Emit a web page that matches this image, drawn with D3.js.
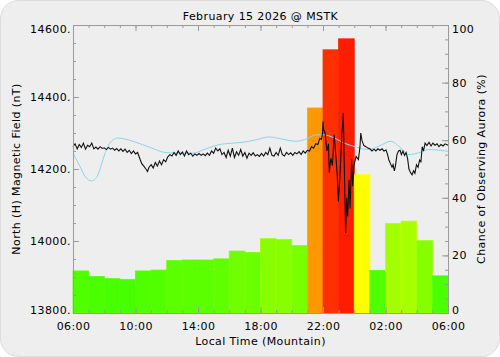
<!DOCTYPE html>
<html>
<head>
<meta charset="utf-8">
<script src="https://cdn.jsdelivr.net/npm/d3@7"></script>
<style>
  html, body { margin: 0; padding: 0; background: #ffffff; }
  svg { display: block; font-family: "DejaVu Sans", sans-serif; }
</style>
</head>
<body>
<div id="chart"></div>
<script>
// chance of aurora, one bar per hour starting 06:00
var chanceValues = [14.6, 12.7, 11.9, 11.6, 14.6, 14.9, 18.2, 18.4, 18.4, 18.8, 21.5, 21.0,
                    25.8, 25.5, 23.4, 71.2, 91.4, 95.2, 48.0, 14.8, 31.1, 31.9, 25.1, 12.9];

// magnetometer H component: [minutes after 06:00, nT]
var magField = [
  [0,14262],[8,14270],[16,14256],[24,14268],[32,14260],[40,14272],[48,14255],[56,14266],[64,14262],[72,14272],
  [80,14256],[88,14261],[96,14255],[104,14262],[112,14257],[120,14259],[128,14254],[136,14260],[144,14255],[152,14258],
  [160,14252],[168,14257],[176,14250],[184,14256],[192,14249],[200,14255],[208,14246],[216,14252],[224,14243],[232,14250],
  [240,14242],[248,14246],[256,14230],[264,14215],[272,14208],[280,14200],[286,14193],[292,14205],[300,14212],[308,14203],
  [316,14218],[324,14208],[332,14222],[340,14212],[348,14226],[356,14220],[364,14234],[372,14240],[380,14236],[388,14246],
  [396,14238],[404,14250],[412,14240],[420,14247],[428,14236],[436,14250],[444,14240],[452,14244],[460,14236],[468,14242],
  [476,14238],[484,14243],[492,14238],[500,14242],[508,14237],[516,14244],[524,14238],[532,14250],[540,14244],[548,14258],
  [556,14250],[564,14256],[572,14240],[580,14246],[588,14232],[596,14252],[604,14236],[612,14258],[620,14232],[628,14248],
  [636,14238],[644,14254],[652,14236],[660,14246],[668,14230],[676,14244],[684,14238],[692,14245],[700,14236],[708,14240],
  [716,14235],[724,14243],[732,14236],[740,14246],[748,14240],[756,14258],[764,14238],[772,14236],[780,14246],[788,14238],
  [796,14258],[804,14240],[812,14236],[820,14246],[828,14240],[836,14245],[844,14238],[852,14246],[860,14242],[868,14248],
  [876,14240],[884,14250],[892,14244],[900,14252],[908,14250],[916,14262],[924,14258],[932,14270],[940,14268],[948,14285],
  [954,14282],[958,14300],[960,14332],[962,14310],[968,14300],[975,14250],[981,14270],[984,14190],[990,14230],[996,14210],
  [1003,14295],[1009,14240],[1015,14180],[1019,14110],[1025,14180],[1032,14290],[1038,14355],[1042,14200],[1047,14022],[1051,14120],
  [1055,14068],[1060,14170],[1064,14090],[1070,14226],[1074,14152],[1079,14210],[1087,14235],[1096,14226],[1102,14262],[1105,14300],
  [1110,14278],[1117,14265],[1125,14262],[1133,14258],[1140,14256],[1148,14250],[1156,14255],[1163,14250],[1171,14256],[1179,14252],
  [1187,14256],[1194,14250],[1202,14253],[1208,14240],[1213,14225],[1219,14215],[1225,14205],[1229,14212],[1234,14195],[1238,14208],
  [1244,14240],[1250,14250],[1256,14252],[1261,14240],[1267,14250],[1273,14238],[1279,14246],[1285,14228],[1290,14200],[1296,14190],
  [1302,14184],[1308,14195],[1313,14188],[1319,14212],[1325,14205],[1331,14225],[1336,14220],[1341,14262],[1346,14250],[1352,14272],
  [1359,14265],[1367,14274],[1375,14264],[1382,14272],[1390,14266],[1398,14270],[1405,14262],[1413,14268],[1421,14264],[1429,14270],
  [1440,14266]
];

// quiet-day reference curve: [minutes after 06:00, nT]
var baseline = [
  [0,14244],[27,14207],[46,14180],[72,14167],[96,14184],[115,14226],[134,14263],[154,14281],[173,14286],[200,14283],
  [238,14275],[296,14260],[353,14246],[411,14244],[461,14244],[507,14255],[557,14267],[614,14272],[660,14275],[703,14281],
  [753,14289],[803,14283],[856,14277],[895,14283],[933,14295],[960,14295],[1060,14267],[1137,14254],[1179,14265],[1220,14277],
  [1256,14260],[1290,14240],[1332,14246],[1367,14254],[1440,14249]
];

var magTicks = [13800, 14000, 14200, 14400, 14600];
var pctTicks = [0, 20, 40, 60, 80, 100];
var timeTickHours = [0, 4, 8, 12, 16, 20, 24];   // hours after 06:00

var width = 500, height = 357;
var margin = {left: 73, right: 52, top: 25, bottom: 44};
var x0 = margin.left, x1 = width - margin.right;
var y0 = height - margin.bottom, y1 = margin.top;

var start = new Date(2026, 1, 15, 6, 0);
var end = new Date(2026, 1, 16, 6, 0);
function atMin(m) { return new Date(start.getTime() + m * 60000); }

var x = d3.scaleTime().domain([start, end]).range([x0, x1]);
var yMag = d3.scaleLinear().domain([13800, 14600]).range([y0, y1]);
var yPct = d3.scaleLinear().domain([0, 100]).range([y0, y1]);

var color = d3.scaleLinear()
  .domain([11, 18, 25, 32, 48, 71, 95])
  .range(["#44ff00", "#5aff00", "#84ff00", "#a8ff00", "#ffff00", "#ff9900", "#ff1e00"]);

var svg = d3.select("#chart").append("svg")
  .attr("width", width).attr("height", height);

svg.append("rect")
  .attr("x", 0.5).attr("y", 0.5)
  .attr("width", width - 1).attr("height", height - 1)
  .attr("rx", 18).attr("ry", 18)
  .attr("fill", "#eeeeee").attr("stroke", "#dcdcdc");

// bars
svg.append("g").selectAll("rect")
  .data(chanceValues)
  .enter().append("rect")
  .attr("x", function(d, i) { return x(atMin(i * 60)); })
  .attr("width", function(d, i) { return x(atMin((i + 1) * 60)) - x(atMin(i * 60)); })
  .attr("y", function(d) { return yPct(d); })
  .attr("height", function(d) { return y0 - yPct(d); })
  .attr("fill", function(d) { return color(d); })
  .attr("stroke", function(d) { return d3.color(color(d)).brighter(0.35); })
  .attr("stroke-width", 0.8);

var line = d3.line()
  .x(function(d) { return x(atMin(d[0])); })
  .y(function(d) { return yMag(d[1]); });

svg.append("path")
  .datum(baseline)
  .attr("d", line.curve(d3.curveMonotoneX))
  .attr("fill", "none")
  .attr("stroke", "#8ad4ee")
  .attr("stroke-width", 1);

svg.append("path")
  .datum(magField)
  .attr("d", line.curve(d3.curveLinear))
  .attr("fill", "none")
  .attr("stroke", "#111111")
  .attr("stroke-width", 1.1);

// axes
var hours4 = timeTickHours.map(function(h) { return atMin(h * 60); });
var hours1 = d3.range(0, 25).map(function(h) { return atMin(h * 60); });

function styleAxis(g) {
  g.selectAll(".domain").attr("stroke", "#9a9a9a");
  g.selectAll(".tick line").attr("stroke", "#9a9a9a");
  g.selectAll("text").attr("fill", "#000").style("font-size", "11px")
    .style("letter-spacing", "0.4px")
    .style("font-family", "DejaVu Sans, sans-serif");
}

svg.append("g").attr("transform", "translate(0," + y0 + ")")
  .call(d3.axisBottom(x).tickValues(hours1).tickSize(-3).tickFormat(""))
  .call(styleAxis);
svg.append("g").attr("transform", "translate(0," + y0 + ")")
  .call(d3.axisBottom(x).tickValues(hours4).tickSize(-6).tickPadding(9)
    .tickFormat(d3.timeFormat("%H:%M")))
  .call(styleAxis);

svg.append("g").attr("transform", "translate(0," + y1 + ")")
  .call(d3.axisTop(x).tickValues(hours1).tickSize(-3).tickFormat(""))
  .call(styleAxis);
svg.append("g").attr("transform", "translate(0," + y1 + ")")
  .call(d3.axisTop(x).tickValues(hours4).tickSize(-6).tickFormat(""))
  .call(styleAxis);

svg.append("g").attr("transform", "translate(" + x0 + ",0)")
  .call(d3.axisLeft(yMag).tickValues(d3.range(13800, 14601, 50)).tickSize(-3).tickFormat(""))
  .call(styleAxis);
var leftAx = svg.append("g").attr("transform", "translate(" + x0 + ",0)")
  .call(d3.axisLeft(yMag).tickValues(magTicks).tickSize(-6).tickPadding(2)
    .tickFormat(function(d) { return d + "."; }))
  .call(styleAxis);

svg.append("g").attr("transform", "translate(" + x1 + ",0)")
  .call(d3.axisRight(yPct).tickValues(d3.range(0, 101, 5)).tickSize(-3).tickFormat(""))
  .call(styleAxis);
var rightAx = svg.append("g").attr("transform", "translate(" + x1 + ",0)")
  .call(d3.axisRight(yPct).tickValues(pctTicks).tickSize(-6).tickPadding(4))
  .call(styleAxis);

// end labels sit inside the frame like the original
[leftAx, rightAx].forEach(function(ax) {
  var t = ax.selectAll(".tick text");
  t.filter(function(d, i, n) { return i === 0; }).attr("dy", "0.0em");
  t.filter(function(d, i, n) { return i === n.length - 1; }).attr("dy", "0.72em");
});

// titles
function titleText(sel) {
  return sel.attr("text-anchor", "middle")
    .style("font-size", "11px")
    .style("letter-spacing", "0.4px");
}

svg.append("text")
  .attr("x", (x0 + x1) / 2).attr("y", 20)
  .call(titleText)
  .text("February 15 2026 @ MSTK");

svg.append("text")
  .attr("x", (x0 + x1) / 2).attr("y", 345)
  .call(titleText)
  .text("Local Time (Mountain)");

svg.append("text")
  .attr("transform", "translate(20," + ((y0 + y1) / 2) + ") rotate(-90)")
  .call(titleText)
  .text("North (H) Magnetic Field (nT)");

svg.append("text")
  .attr("transform", "translate(485," + ((y0 + y1) / 2) + ") rotate(-90)")
  .call(titleText)
  .text("Chance of Observing Aurora (%)");
</script>
</body>
</html>
